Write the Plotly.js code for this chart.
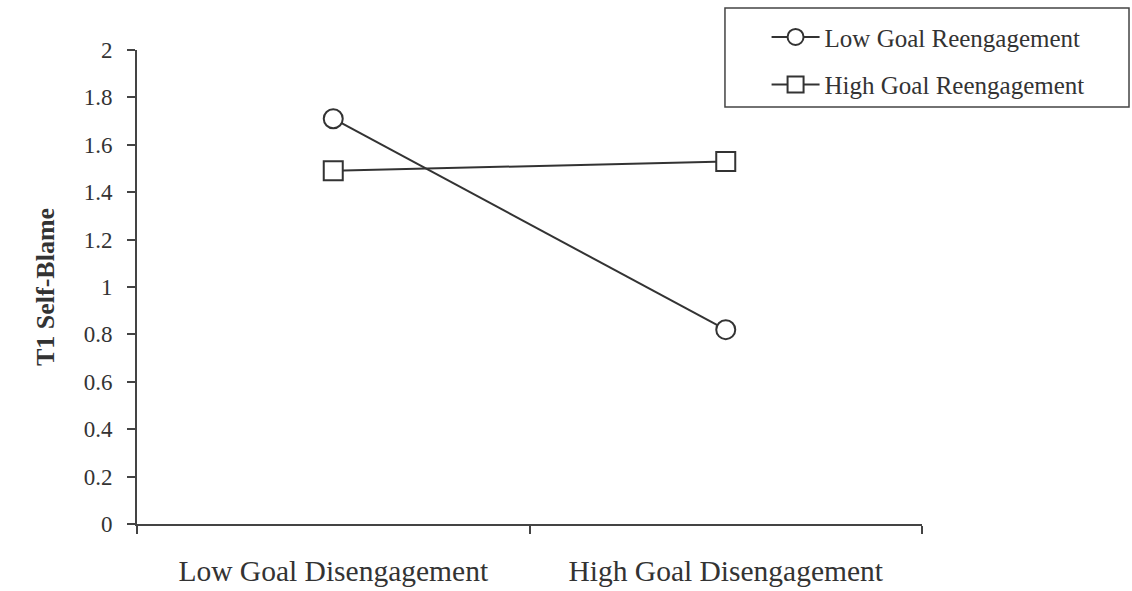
<!DOCTYPE html>
<html>
<head>
<meta charset="utf-8">
<script src="https://cdn.plot.ly/plotly-3.0.1.min.js"></script>
<style>html,body{margin:0;padding:0;background:#fff;}#chart{width:1132px;height:591px;}</style>
</head>
<body>
<div id="chart"></div>
<script>
var categories = ["Low Goal Disengagement", "High Goal Disengagement"];
var seriesNames = ["Low Goal Reengagement", "High Goal Reengagement"];
var lowReengagement = [1.71, 0.82];
var highReengagement = [1.49, 1.53];
var yTickVals = [0, 0.2, 0.4, 0.6, 0.8, 1, 1.2, 1.4, 1.6, 1.8, 2];
var yTickText = ["0", "0.2", "0.4", "0.6", "0.8", "1", "1.2", "1.4", "1.6", "1.8", "2"];

var ink = "#333333";
var fontFam = "Liberation Serif, Times New Roman, serif";

var traces = [
  {
    x: categories, y: lowReengagement, name: seriesNames[0], type: "scatter", mode: "lines+markers",
    legendgroup: "a",
    line: {color: ink, width: 2},
    marker: {symbol: "circle", size: 19, color: "#ffffff", line: {color: ink, width: 2}}
  },
  {
    x: categories, y: highReengagement, name: seriesNames[1], type: "scatter", mode: "lines+markers",
    legendgroup: "b",
    line: {color: ink, width: 2},
    marker: {symbol: "square", size: 19, color: "#ffffff", line: {color: ink, width: 2}}
  }
];

var layout = {
  width: 1132, height: 591,
  margin: {l: 137, r: 210, t: 50, b: 67},
  paper_bgcolor: "#ffffff", plot_bgcolor: "#ffffff",
  font: {family: fontFam, color: ink, size: 23},
  showlegend: true,
  legend: {
    x: 0.802, y: 1.0755, xanchor: "left", yanchor: "top",
    bgcolor: "rgba(0,0,0,0)", borderwidth: 0,
    font: {family: fontFam, size: 25, color: ink},
    itemwidth: 48,
    tracegroupgap: 12
  },
  xaxis: {
    type: "category", range: [-0.5, 1.5],
    showline: true, linecolor: "#444444", linewidth: 2,
    ticks: "outside", tickson: "boundaries", ticklen: 8, tickwidth: 2, tickcolor: "#444444",
    showgrid: false, zeroline: false,
    tickfont: {family: fontFam, size: 29.5, color: ink},
    ticklabelstandoff: 20
  },
  yaxis: {
    range: [0, 2], tickvals: yTickVals, ticktext: yTickText,
    showline: true, linecolor: "#444444", linewidth: 2,
    ticks: "outside", ticklen: 8, tickwidth: 2, tickcolor: "#444444",
    showgrid: false, zeroline: false,
    tickfont: {family: fontFam, size: 23, color: ink},
    ticklabelstandoff: 10,
    title: {text: "<b>T1 Self-Blame</b>", font: {family: fontFam, size: 26, color: ink}, standoff: 22}
  },
  shapes: [
    {type: "rect", xref: "paper", yref: "paper", x0: 0.749, x1: 1.2637, y0: 0.8797, y1: 1.0886,
     line: {color: "#444444", width: 1.5}, fillcolor: "rgba(0,0,0,0)"}
  ]
};

Plotly.newPlot("chart", traces, layout, {displayModeBar: false, staticPlot: true});
</script>
</body>
</html>
